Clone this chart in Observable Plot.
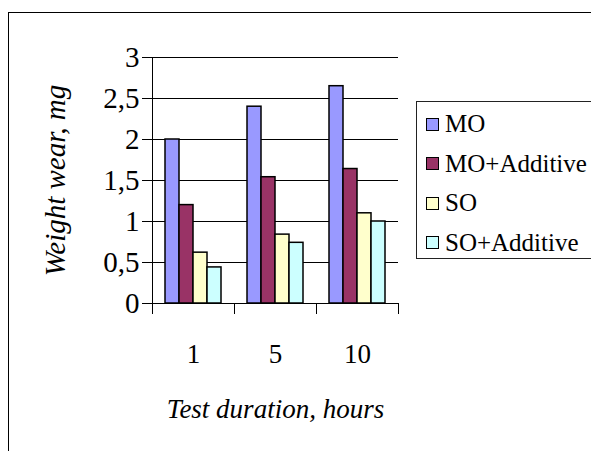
<!DOCTYPE html>
<html><head><meta charset="utf-8">
<script src="https://cdn.jsdelivr.net/npm/d3@7"></script>
<script src="https://cdn.jsdelivr.net/npm/@observablehq/plot@0.6"></script>
<style>
body{margin:0;background:#fff;}
#wrap{position:relative;width:591px;height:451px;overflow:hidden;font-family:"Liberation Serif","Times New Roman",Times,"DejaVu Serif",serif;}
#border{position:absolute;left:8px;top:12px;width:640px;height:520px;border:1.5px solid #000;box-sizing:border-box;}
#chart{position:absolute;left:0;top:0;}
#legend{position:absolute;left:416px;top:101px;width:200px;height:158px;border:1px solid #222;box-sizing:border-box;background:#fff;}
.item{position:absolute;left:9px;height:30px;display:flex;align-items:center;font-size:25px;color:#000;white-space:nowrap;}
.sw{width:11px;height:11px;border:1.5px solid #000;margin-right:6px;flex:none;}
svg text{font-family:"Liberation Serif","Times New Roman",Times,"DejaVu Serif",serif;}
g[aria-label="y-axis label"] text, g[aria-label="fx-axis label"] text{font-style:italic;}
</style></head>
<body>
<div id="wrap"><div id="border"></div><div id="chart"></div><div id="legend"></div></div>
<script>
const durations = ["1", "5", "10"];
const series = ["MO", "MO+Additive", "SO", "SO+Additive"];
const colors = ["#9999FF", "#993366", "#FFFFCC", "#CCFFFF"];
const valuesMO = [2.0, 2.4, 2.65];
const valuesMOAdd = [1.2, 1.54, 1.64];
const valuesSO = [0.62, 0.84, 1.1];
const valuesSOAdd = [0.44, 0.74, 1.0];
const yTicks = [0, 0.5, 1, 1.5, 2, 2.5, 3];

const seriesValues = [valuesMO, valuesMOAdd, valuesSO, valuesSOAdd];
const data = [];
durations.forEach((d, i) => series.forEach((s, j) => data.push({duration: d, series: s, value: seriesValues[j][i]})));

const W = 591, H = 451, mL = 151, mR = 193, mT = 57, mB = 148;
const plotH = H - mT - mB;
const FONT = "'Liberation Serif', 'Times New Roman', Times, 'DejaVu Serif', serif";

const chart = Plot.plot({
  width: W, height: H,
  marginLeft: mL, marginRight: mR, marginTop: mT, marginBottom: mB,
  style: {fontSize: "28px", fontFamily: FONT, background: "transparent", color: "#000"},
  fx: {domain: durations, padding: 0},
  x: {domain: series, paddingInner: 0, paddingOuter: 0.75, axis: null},
  y: {domain: [0, 3]},
  color: {domain: series, range: colors},
  marks: [
    Plot.ruleY(yTicks, {stroke: "#000", strokeWidth: 1}),
    Plot.frame({anchor: "left", fx: () => durations[0], stroke: "#000", strokeWidth: 1}),
    Plot.frame({anchor: "left", insetTop: plotH, insetBottom: -10, stroke: "#000", strokeWidth: 1}),
    Plot.frame({anchor: "right", insetTop: plotH, insetBottom: -10, stroke: "#000", strokeWidth: 1}),
    Plot.barY(data, {fx: "duration", x: "series", y: "value", fill: "series", stroke: "#000", strokeWidth: 1.5}),
    Plot.axisY({ticks: yTicks, tickSize: 10, tickPadding: 3, fontSize: 29, tickFormat: d => String(d).replace(".", ","), label: "Weight wear, mg", labelArrow: "none", labelAnchor: "center", labelOffset: 108, stroke: "#000", fontFamily: FONT}),
    Plot.axisFx({anchor: "bottom", tickSize: 0, tickPadding: 40, fontSize: 27, label: "Test duration, hours", labelArrow: "none", labelAnchor: "center", labelOffset: 114, fontFamily: FONT})
  ]
});
document.getElementById("chart").appendChild(chart);

const legend = document.getElementById("legend");
series.forEach((s, i) => {
  const it = document.createElement("div");
  it.className = "item";
  it.style.top = (7 + i * 39.5) + "px";
  const sw = document.createElement("div");
  sw.className = "sw";
  sw.style.background = colors[i];
  it.appendChild(sw);
  it.appendChild(document.createTextNode(s));
  legend.appendChild(it);
});
</script>
</body></html>
